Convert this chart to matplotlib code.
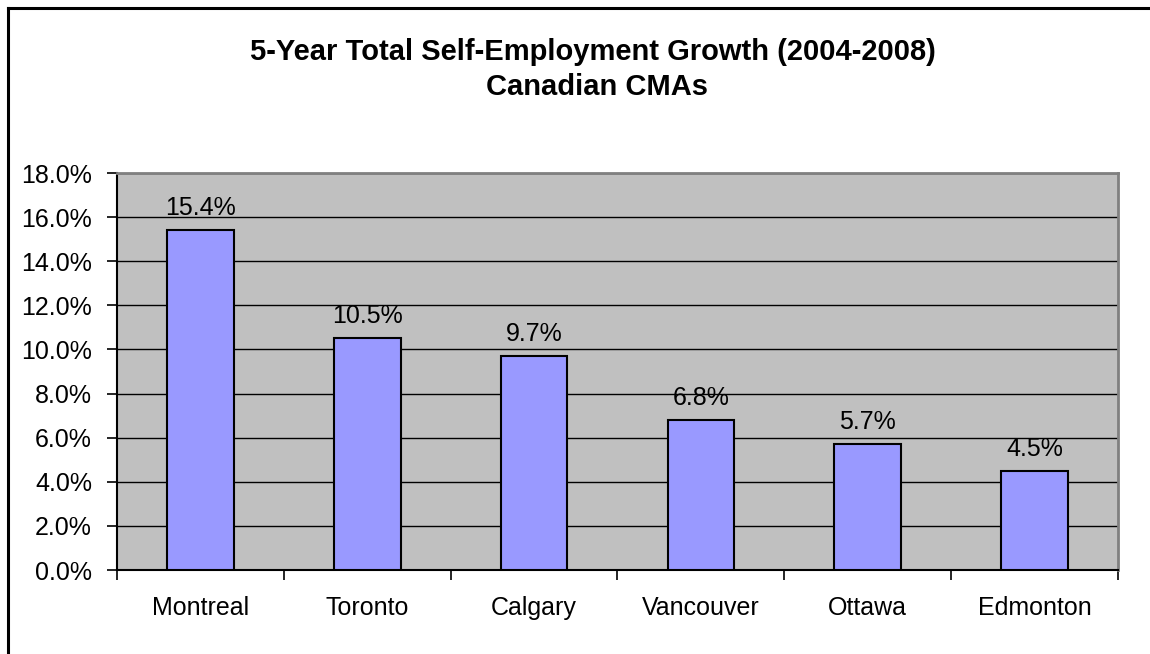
import matplotlib
matplotlib.use("Agg")
import matplotlib.pyplot as plt
from matplotlib.lines import Line2D

# Datos del gráfico
ciudades = ["Montreal", "Toronto", "Calgary", "Vancouver", "Ottawa", "Edmonton"]
crecimiento = [15.4, 10.5, 9.7, 6.8, 5.7, 4.5]
marcas_y = [0, 2, 4, 6, 8, 10, 12, 14, 16, 18]

plt.rcParams['font.family'] = ['Liberation Sans', 'DejaVu Sans']

fig = plt.figure(figsize=(11.5, 6.54), dpi=100)
ax = fig.add_axes([117 / 1150, 1 - 570 / 654, (1118 - 117) / 1150, (570 - 173) / 654])

# Borde del gráfico (solo izquierda y arriba visibles)
fig.add_artist(Line2D([8 / 1150, 8 / 1150], [0, 1 - 8 / 654], transform=fig.transFigure, color='black', lw=2.2))
fig.add_artist(Line2D([8 / 1150, 1], [1 - 8 / 654, 1 - 8 / 654], transform=fig.transFigure, color='black', lw=2.2))

ax.set_facecolor('#C0C0C0')
x = range(len(ciudades))
ax.set_axisbelow(True)
ax.yaxis.grid(True, color='black', lw=1)
ax.bar(x, crecimiento, width=0.4, color='#9999FF', edgecolor='black', lw=1.5, zorder=3)

for i, v in enumerate(crecimiento):
    ax.text(i, v + 0.45, f"{v:.1f}%", ha='center', va='bottom', fontsize=18)

ax.set_xlim(-0.5, len(ciudades) - 0.5)
ax.set_ylim(0, 18)
ax.set_yticks(marcas_y)
ax.set_yticklabels([f"{m:.1f}%" for m in marcas_y], fontsize=18)
ax.set_xticks(list(x))
ax.set_xticklabels(ciudades, fontsize=18)
ax.tick_params(axis='x', length=0, pad=19)
ax.set_xticks([i - 0.5 for i in range(len(ciudades) + 1)], minor=True)
ax.tick_params(axis='x', which='minor', length=7, width=1.2, color='black')
ax.tick_params(axis='y', length=7, width=1.2, pad=11)

ax.spines['left'].set_color('black')
ax.spines['left'].set_linewidth(1.5)
ax.spines['bottom'].set_color('black')
ax.spines['bottom'].set_linewidth(1.5)
ax.spines['top'].set_color('#808080')
ax.spines['top'].set_linewidth(2)
ax.spines['right'].set_color('#808080')
ax.spines['right'].set_linewidth(2)

fig.text(593 / 1150, 1 - 52 / 654, "5-Year Total Self-Employment Growth (2004-2008)",
         ha='center', va='center', fontsize=21, fontweight='bold')
fig.text(597 / 1150, 1 - 87 / 654, "Canadian CMAs",
         ha='center', va='center', fontsize=21, fontweight='bold')

fig.savefig("out.png", dpi=100)
